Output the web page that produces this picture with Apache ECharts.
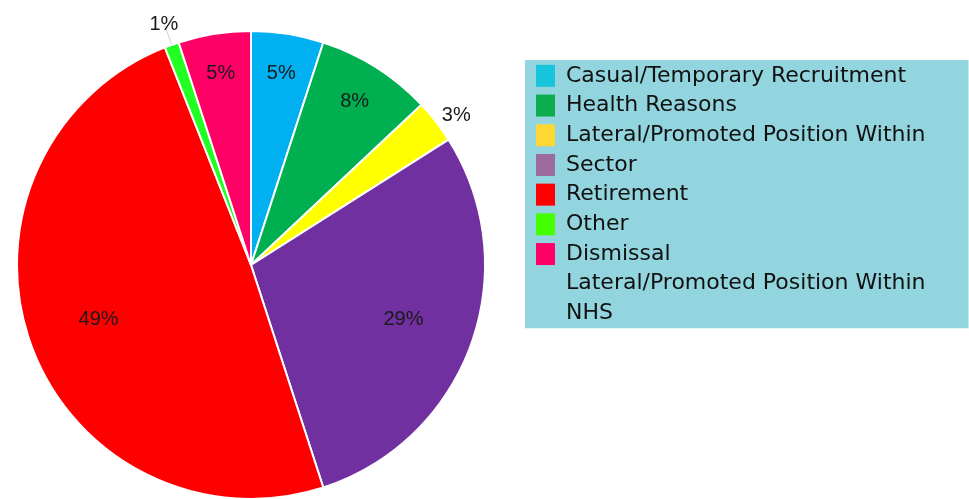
<!DOCTYPE html>
<html>
<head>
<meta charset="utf-8">
<script src="https://cdn.jsdelivr.net/npm/echarts@6/dist/echarts.min.js"></script>
<style>html,body{margin:0;padding:0;background:#fff}#c{width:969px;height:499px}</style>
</head>
<body>
<div id="c"></div>
<script>
// Slice names (pie order, clockwise from 12 o'clock)
const categories = ['Casual/Temporary Recruitment','Health Reasons','Lateral/Promoted Position Within','Sector','Retirement','Other','Dismissal'];
// Extra legend-only entry (no marker, no slice)
const extraLegend = 'Lateral/Promoted Position Within\nNHS';
// Percent values
const values = [5, 8, 3, 29, 49, 1, 5];
const sliceColors = ['#00B0F0','#00B050','#FFFF00','#7030A0','#FF0000','#22FF22','#FF0066'];
const legendColors = ['#17C6DC','#0BAD4F','#FFD735','#9E6BA0','#FF0000','#44FF00','#FF0066'];
// label placement group per slice: 'outer' ring, 'mid' ring, 'outside'
const labelGroup = ['outer','outer','outside','mid','mid','outside','outer'];

const CX = 251, CY = 265, R = 234;
const labelFont = {fontFamily:'"Liberation Sans", Arial, sans-serif', fontSize:20, color:'#1a1a1a'};

const outsideLabel = {
  2: {label:{show:true, position:'outside', distanceToLabelLine:-2}, labelLine:{show:false, length:10, length2:0}},
  5: {label:{show:true, position:'outside', distanceToLabelLine:-14}, labelLine:{show:true, length:22, length2:0}}
};

const mainData = categories.map((n,i)=>{
  const o = outsideLabel[i];
  return {
    name:n, value:values[i],
    itemStyle:{color:sliceColors[i]},
    label: o ? o.label : {show:false},
    labelLine: o ? o.labelLine : {show:false}
  };
});
mainData.push({name:extraLegend, value:0, itemStyle:{color:'transparent', borderWidth:0}, label:{show:false}, labelLine:{show:false}});

function overlay(group, r0){
  return {
    type:'pie', silent:true, startAngle:90, center:[CX,CY], radius:[r0,R],
    animation:false,
    itemStyle:{color:'rgba(0,0,0,0)', borderWidth:0},
    emphasis:{disabled:true},
    data: categories.map((n,i)=>({name:n, value:values[i],
      label:{show: labelGroup[i]===group}})).concat([{name:extraLegend, value:0, label:{show:false}}]),
    label:Object.assign({position:'inside', formatter:'{d}%'}, labelFont),
    labelLine:{show:false}
  };
}

const chart = echarts.init(document.getElementById('c'), null, {renderer:'canvas'});
chart.setOption({
  animation:false,
  legend:{
    orient:'vertical', left:525, top:60,
    backgroundColor:'#93D5DE',
    padding:[1, 43, 0, 11],
    itemWidth:19, itemHeight:22, itemGap:0,
    selectedMode:false,
    textStyle:{fontFamily:'"DejaVu Sans", sans-serif', fontSize:22, color:'#111', lineHeight:29.7, padding:[0,0,0,6]},
    data: categories.map((n,i)=>({name:n, icon:'rect', itemStyle:{color:legendColors[i], borderWidth:0}}))
          .concat([{name:extraLegend, icon:'rect', itemStyle:{opacity:0, borderWidth:0}}])
  },
  series:[
    {
      type:'pie', startAngle:90, center:[CX,CY], radius:R,
      animation:false, silent:true,
      itemStyle:{borderColor:'#ffffff', borderWidth:2},
      label:Object.assign({formatter:'{d}%'}, labelFont),
      labelLine:{lineStyle:{color:'#d0d0d0', width:1}},
      data: mainData
    },
    overlay('outer', 147),
    overlay('mid', 84)
  ]
});
</script>
</body>
</html>
